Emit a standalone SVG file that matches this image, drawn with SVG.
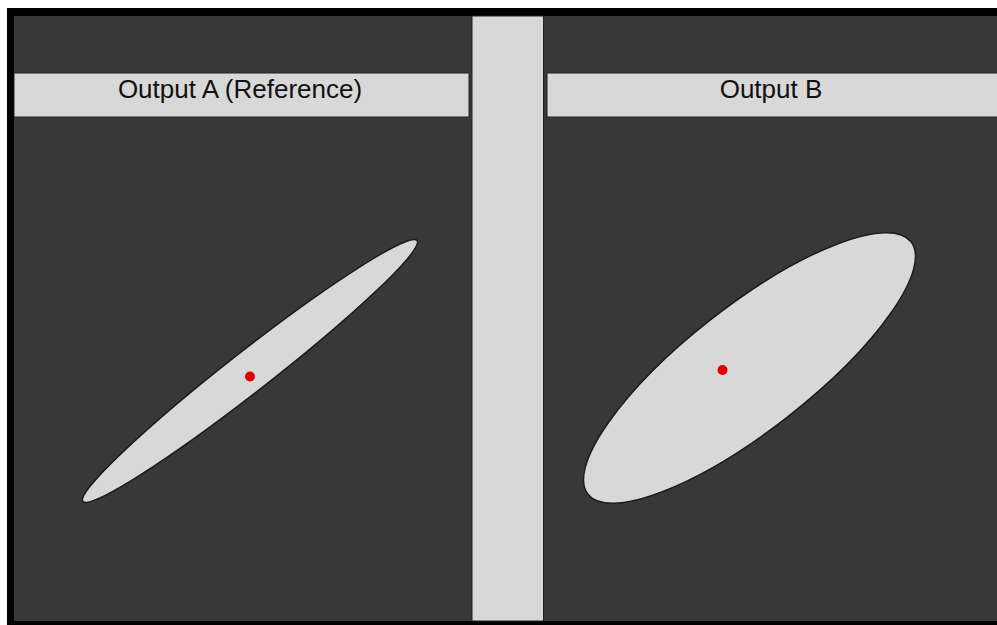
<svg xmlns="http://www.w3.org/2000/svg" width="997" height="625" viewBox="0 0 997 625">
  <style>
    .bar { fill: #d8d8d8; stroke: #222; stroke-width: 1; }
    .blob { fill: #d8d8d8; stroke: #1c1c1c; stroke-width: 1.5; }
    .dot { fill: #e00000; }
    .lbl { font-family: "Liberation Sans", Arial, sans-serif; font-size: 26px; fill: #111; text-anchor: middle; }
  </style>
  <rect x="0" y="0" width="997" height="625" fill="#ffffff"/>
  <rect x="7" y="8" width="990" height="617" fill="#000000"/>
  <rect x="14" y="16" width="983" height="605" fill="#383838"/>
  <g id="divider">
    <rect class="bar" x="472" y="16" width="71.5" height="605"/>
  </g>
  <g id="header-a">
    <rect class="bar" x="14" y="73" width="455" height="44"/>
    <text class="lbl" x="240" y="98">Output A (Reference)</text>
  </g>
  <g id="header-b">
    <rect class="bar" x="547" y="73" width="452" height="44"/>
    <text class="lbl" x="771" y="98">Output B</text>
  </g>
  <g id="ellipse-a">
    <ellipse class="blob" cx="250" cy="371" rx="212" ry="20.5" transform="rotate(-38 250 371)"/>
    <circle class="dot" cx="250" cy="376.5" r="5"/>
  </g>
  <g id="ellipse-b">
    <ellipse class="blob" cx="749.5" cy="368" rx="205" ry="62" transform="rotate(-38 749.5 368)"/>
    <circle class="dot" cx="722.5" cy="370" r="5"/>
  </g>
  <g id="connectors"/>
</svg>
